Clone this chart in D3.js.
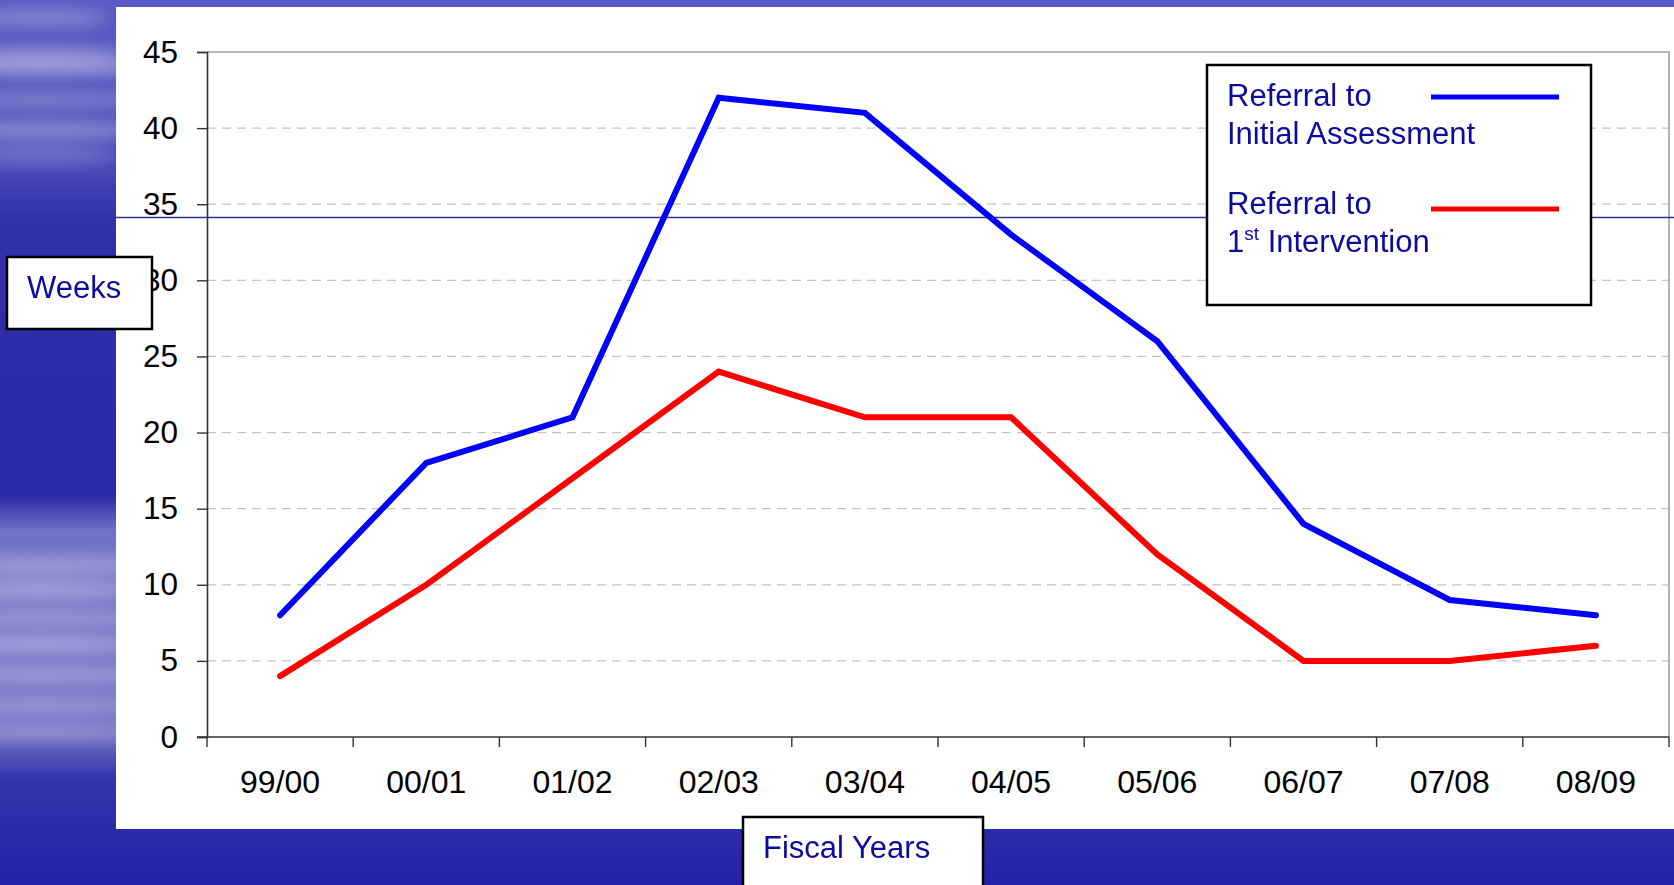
<!DOCTYPE html>
<html>
<head>
<meta charset="utf-8">
<script src="https://cdn.jsdelivr.net/npm/d3@7/dist/d3.min.js"></script>
<style>
html,body{margin:0;padding:0;background:#2a2aa8;overflow:hidden;}
svg{display:block;}
text{font-family:"Liberation Sans", Arial, sans-serif;}
</style>
</head>
<body>
<svg id="chart" width="1674" height="885"></svg>
<script>
// ---- data ----
const categories = ["99/00","00/01","01/02","02/03","03/04","04/05","05/06","06/07","07/08","08/09"];
const initialAssessment = [8, 18, 21, 42, 41, 33, 26, 14, 9, 8];
const firstIntervention = [4, 10, 17, 24, 21, 21, 12, 5, 5, 6];
const yTicks = [0, 5, 10, 15, 20, 25, 30, 35, 40, 45];
const seriesNames = [["Referral to", "Initial Assessment"], ["Referral to", "1", "st", " Intervention"]];
const seriesColors = ["#0000ff", "#ff0000"];
const yTitle = "Weeks";
const xTitle = "Fiscal Years";

const W = 1674, H = 885;
const svg = d3.select("#chart");
const defs = svg.append("defs");

// background gradient
const bg = defs.append("linearGradient").attr("id","bg").attr("x1",0).attr("y1",0).attr("x2",0).attr("y2",1);
[[0,"#5a5ac4"],[0.05,"#5656c0"],[0.19,"#4848b8"],[0.25,"#3030aa"],[0.56,"#2a2aa8"],[0.6,"#7272c6"],[0.83,"#7070c4"],[0.88,"#3434ac"],[1,"#2222a8"]]
  .forEach(([o,c]) => bg.append("stop").attr("offset",o).attr("stop-color",c));
const blur = defs.append("filter").attr("id","blur").attr("x","-50%").attr("y","-50%").attr("width","200%").attr("height","200%");
blur.append("feGaussianBlur").attr("stdDeviation",8);

svg.append("rect").attr("width",W).attr("height",H).attr("fill","url(#bg)");
// soft streaks on the left background
const streaks = [[18,70,0.3],[55,90,0.35],[68,130,0.4],[100,120,0.3],[130,110,0.4],[155,80,0.25],[565,120,0.35],[590,100,0.4],[618,120,0.3],[645,110,0.4],[675,130,0.35],[705,120,0.3],[732,100,0.25]];
const sg = svg.append("g").attr("filter","url(#blur)");
streaks.forEach(([y,w,o]) => {
  sg.append("ellipse").attr("cx",40).attr("cy",y).attr("rx",w).attr("ry",8).attr("fill","#ffffff").attr("opacity",o);
});

// white panel
svg.append("rect").attr("x",116).attr("y",7).attr("width",W-116).attr("height",829-7).attr("fill","#ffffff");

// scales
const x = d3.scaleBand().domain(categories).range([207,1669]).padding(0);
const y = d3.scaleLinear().domain([0,45]).range([737,52]);
const cx = c => x(c) + x.bandwidth()/2;

// gridlines
svg.append("g").selectAll("line").data(yTicks.filter(t => t>0 && t<45)).join("line")
  .attr("x1",x.range()[0]).attr("x2",x.range()[1])
  .attr("y1",d=>y(d)).attr("y2",d=>y(d))
  .attr("stroke","#c4c4c4").attr("stroke-width",1.2).attr("stroke-dasharray","9,6");

// plot border top/right
svg.append("path").attr("d",`M${x.range()[0]},${y(45)}H${x.range()[1]}V${y(0)}`)
  .attr("fill","none").attr("stroke","#a0a0a0").attr("stroke-width",1.6);

// horizontal slide line
svg.append("line").attr("x1",116).attr("x2",W).attr("y1",217.5).attr("y2",217.5)
  .attr("stroke","#30309a").attr("stroke-width",1.3);

// y axis
const yAxis = svg.append("g").attr("transform",`translate(${x.range()[0]},0)`)
  .call(d3.axisLeft(y).tickValues(yTicks).tickSize(10).tickPadding(19).tickFormat(d3.format("d")));
yAxis.select(".domain").attr("stroke","#333").attr("stroke-width",1.6);
yAxis.selectAll(".tick line").attr("stroke","#333").attr("stroke-width",1.4);
yAxis.selectAll("text").attr("font-size",31.5).attr("fill","#000").attr("font-family","Liberation Sans, Arial, sans-serif");

// x axis
const xAxis = svg.append("g").attr("transform",`translate(0,${y(0)})`)
  .call(d3.axisBottom(x).tickSize(0).tickPadding(33));
xAxis.select(".domain").remove();
xAxis.selectAll("text").attr("font-size",32).attr("fill","#000").attr("font-family","Liberation Sans, Arial, sans-serif");
svg.append("line").attr("x1",x.range()[0]-10).attr("x2",x.range()[1]).attr("y1",y(0)).attr("y2",y(0))
  .attr("stroke","#333").attr("stroke-width",1.6);
const edges = categories.map(c => x(c)).concat([x.range()[1]]);
svg.append("g").selectAll("line").data(edges).join("line")
  .attr("x1",d=>d).attr("x2",d=>d).attr("y1",y(0)).attr("y2",y(0)+10)
  .attr("stroke","#333").attr("stroke-width",1.4);

// series lines
const line = d3.line().x(d=>cx(d.c)).y(d=>y(d.v));
[initialAssessment, firstIntervention].forEach((vals,i) => {
  svg.append("path").datum(categories.map((c,j)=>({c, v: vals[j]})))
    .attr("d",line).attr("fill","none").attr("stroke",seriesColors[i])
    .attr("stroke-width",6).attr("stroke-linecap","round").attr("stroke-linejoin","miter");
});

// legend
const textBlue = "#0c0c9e";
const lg = svg.append("g");
lg.append("rect").attr("x",1207).attr("y",65).attr("width",1591-1207).attr("height",305-65)
  .attr("fill","#fff").attr("stroke","#000").attr("stroke-width",2.5);
lg.append("text").attr("x",1227).attr("y",106).attr("font-size",31).attr("fill",textBlue).text(seriesNames[0][0]);
lg.append("text").attr("x",1227).attr("y",143.5).attr("font-size",31).attr("fill",textBlue).text(seriesNames[0][1]);
lg.append("text").attr("x",1227).attr("y",214).attr("font-size",31).attr("fill",textBlue).text(seriesNames[1][0]);
const lt4 = lg.append("text").attr("x",1227).attr("y",252).attr("font-size",31).attr("fill",textBlue);
lt4.append("tspan").text(seriesNames[1][1]);
lt4.append("tspan").attr("font-size",19).attr("dy",-12).text(seriesNames[1][2]);
lt4.append("tspan").attr("dy",12).text(seriesNames[1][3]);
[97, 209].forEach((ly,i) => {
  lg.append("line").attr("x1",1431).attr("x2",1559).attr("y1",ly).attr("y2",ly)
    .attr("stroke",seriesColors[i]).attr("stroke-width",5);
});

// axis title boxes
svg.append("rect").attr("x",7).attr("y",257).attr("width",145).attr("height",72)
  .attr("fill","#fff").attr("stroke","#000").attr("stroke-width",2.5);
svg.append("text").attr("x",27).attr("y",298).attr("font-size",31).attr("fill",textBlue).text(yTitle);

svg.append("rect").attr("x",743).attr("y",817).attr("width",240).attr("height",90)
  .attr("fill","#fff").attr("stroke","#000").attr("stroke-width",2.5);
svg.append("text").attr("x",763).attr("y",858).attr("font-size",31).attr("fill",textBlue).text(xTitle);
</script>
</body>
</html>
